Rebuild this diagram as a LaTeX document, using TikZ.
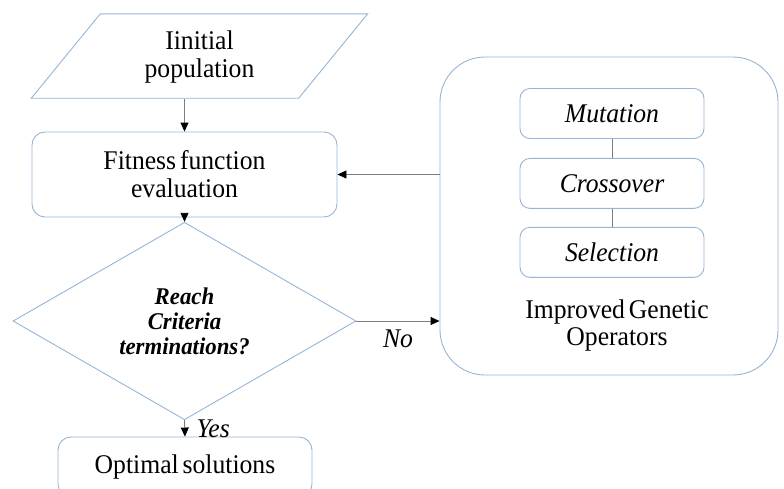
\documentclass[tikz,border=0pt]{standalone}
\usepackage{fontspec}
\setmainfont[FakeStretch=0.95,WordSpace=0.6]{Liberation Serif}
\usepackage{tikz}
\usetikzlibrary{arrows.meta,shapes,positioning}
\definecolor{boxblue}{RGB}{150,180,212}
\definecolor{linegray}{RGB}{125,125,125}

\begin{document}
\begin{tikzpicture}[x=1pt,y=-1pt]
% STYLES
\tikzset{
    block/.style={rectangle, rounded corners=13pt, draw=boxblue, line width=0.9pt,
    align=center, inner sep=2pt, font=\fontsize{27}{28}\selectfont},
    decide/.style={diamond, draw=boxblue, line width=0.9pt, align=center, inner sep=0pt,
    minimum width=343pt, minimum height=168pt,
    font=\fontsize{24}{25}\selectfont\bfseries\itshape},
    oper/.style={block, rounded corners=10pt, minimum width=184pt, minimum height=50pt,
    font=\fontsize{27}{28}\selectfont\itshape},
    link/.style={draw=linegray, line width=0.9pt,
    -{Triangle[length=9pt,width=8pt,color=black]}}
}
\useasboundingbox (0,0) rectangle (784,488);

\node [align=center, minimum width=267pt, minimum height=84pt, font=\fontsize{27}{28}\selectfont] (Init) at (199.5,57) {Iinitial\\population};
\draw[boxblue, line width=0.9pt] ([xshift=34.5pt,yshift=1pt]Init.north west) -- ([xshift=34.5pt,yshift=1pt]Init.north east)
   -- ([xshift=-34.5pt,yshift=1pt]Init.south east) -- ([xshift=-34.5pt,yshift=1pt]Init.south west) -- cycle;
\node [block, minimum width=305pt, minimum height=85pt] (Fitness) at (184.5,174.5) {Fitness function\\evaluation};
\node [decide] (Criteria) at (184.5,321) {Reach\\Criteria\\terminations?};
\node [block, minimum width=254pt, minimum height=60pt] (Optimal) at (185,467) {Optimal solutions};

% operators box on the right
\node [block, rounded corners=45pt, minimum width=338pt, minimum height=318pt] (Ops) at (609,216) {};
\node [oper] (Mutation) at (612,113.5) {Mutation};
\node [oper, below=19pt of Mutation] (Crossover) {Crossover};
\node [oper, below=18pt of Crossover] (Selection) {Selection};
\node [align=center, font=\fontsize{27}{27}\selectfont] (OpsText) at (617,325) {Improved Genetic\\Operators};

% Draw the links between
\draw[link] (Init.south -| Fitness.north) -- (Fitness.north);
\draw[link] (Fitness.south) -- (Criteria.north);
\draw[link] (Criteria.south) -- node[right, xshift=8pt, font=\fontsize{27}{27}\selectfont\itshape] {Yes} (Optimal.north);
\draw[link] (Criteria.east) -- node[below=5pt, font=\fontsize{27}{27}\selectfont\itshape] {No} (Criteria.east -| Ops.west);
\draw[link] (Fitness.east -| Ops.west) -- (Fitness.east);
\draw[linegray, line width=0.9pt] (Mutation) -- (Crossover) (Crossover) -- (Selection);
\end{tikzpicture}
\end{document}
